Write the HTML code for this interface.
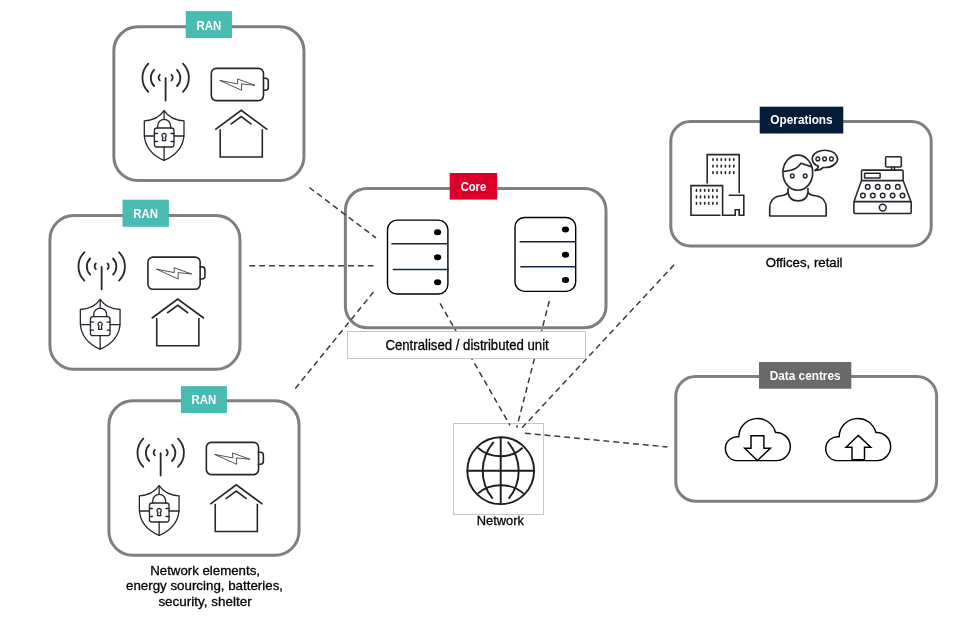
<!DOCTYPE html>
<html><head><meta charset="utf-8"><title>Network diagram</title>
<style>
html,body{margin:0;padding:0;background:#fff;}
svg{display:block;font-family:"Liberation Sans",sans-serif;}
text{filter:grayscale(1);}
</style></head><body>
<svg width="971" height="628" viewBox="0 0 971 628">
<rect width="971" height="628" fill="#fff"/>
<rect x="345.4" y="188.6" width="260.6" height="139.1" rx="21.5" fill="#fff" stroke="#7f7f7f" stroke-width="3"/>
<rect x="453.5" y="423.5" width="90" height="91" fill="#fff" stroke="#c6c6c6" stroke-width="1"/>
<path d="M309.3 187.5L376 237.9" stroke="#3c3c3c" stroke-width="1.5" stroke-dasharray="5.9 3.97" fill="none"/>
<path d="M249.3 265.8L373.5 265.8" stroke="#3c3c3c" stroke-width="1.5" stroke-dasharray="5.9 3.97" fill="none"/>
<path d="M295.3 388.5L374.2 291.1" stroke="#3c3c3c" stroke-width="1.5" stroke-dasharray="5.9 3.97" fill="none"/>
<path d="M440.1 303.4L510 425.3" stroke="#3c3c3c" stroke-width="1.5" stroke-dasharray="5.9 3.97" fill="none"/>
<path d="M549.3 301L516.7 427.6" stroke="#3c3c3c" stroke-width="1.5" stroke-dasharray="5.9 3.97" fill="none"/>
<path d="M674.1 264.8L522.1 427.8" stroke="#3c3c3c" stroke-width="1.5" stroke-dasharray="5.9 3.97" fill="none"/>
<path d="M524.9 433.2L667.5 447" stroke="#3c3c3c" stroke-width="1.5" stroke-dasharray="5.9 3.97" fill="none"/>
<rect x="347.5" y="331.5" width="238" height="27" fill="#fff" stroke="#c6c6c6" stroke-width="1"/>
<text x="385.45" y="350" textLength="163.3" lengthAdjust="spacingAndGlyphs" font-size="14" fill="#000" stroke="#000" stroke-width="0.3">Centralised / distributed unit</text>
<rect x="449.7" y="173" width="47.5" height="26.6" fill="#dc0029"/><text x="460.70" y="191.1" textLength="25.5" lengthAdjust="spacingAndGlyphs" font-size="12.4" font-weight="700" fill="#fff">Core</text>
<rect x="387.5" y="220.1" width="60.4" height="73.9" rx="9.5" fill="#fff" stroke="#000" stroke-width="1.4"/><path d="M391.4 243.8H447" stroke="#0f2542" stroke-width="1.5" fill="none"/><path d="M392.8 269.5H448.8" stroke="#0f2542" stroke-width="1.5" fill="none"/><ellipse cx="437.6" cy="232.2" rx="3.6" ry="3" fill="#000"/><ellipse cx="437.6" cy="257.3" rx="3.6" ry="3" fill="#000"/><ellipse cx="437.6" cy="282.3" rx="3.6" ry="3" fill="#000"/>
<rect x="515" y="217.5" width="60.7" height="73.9" rx="9.5" fill="#fff" stroke="#000" stroke-width="1.4"/><path d="M519.6 241.7H575.2" stroke="#0f2542" stroke-width="1.5" fill="none"/><path d="M520.3 266.7H575.6" stroke="#0f2542" stroke-width="1.5" fill="none"/><ellipse cx="565.5" cy="229.5" rx="3.6" ry="3" fill="#000"/><ellipse cx="565.5" cy="254.8" rx="3.6" ry="3" fill="#000"/><ellipse cx="565.5" cy="280" rx="3.6" ry="3" fill="#000"/>
<rect x="113.85" y="26.8" width="190.1" height="153.7" rx="24" fill="#fff" stroke="#7f7f7f" stroke-width="3"/>
<rect x="185.75" y="11.15" width="46.2" height="26.9" fill="#48bbb2"/><text x="196.50" y="29.9" textLength="24.7" lengthAdjust="spacingAndGlyphs" font-size="12.4" font-weight="700" fill="#fff">RAN</text>
<g transform="translate(0.0,0.0)" fill="none" stroke="#26262e" stroke-linecap="round" stroke-linejoin="round">
  <!-- antenna -->
  <g stroke-width="1.8" transform="translate(0,0)">
    <path d="M165.6 78.2V100.6"/>
    <path d="M148.3 63.6A20 20 0 0 0 148.3 91.9"/>
    <path d="M183 63.6A20 20 0 0 1 183 91.9"/>
    <path d="M154.1 69.8A11.6 11.6 0 0 0 154.1 86"/>
    <path d="M177 69.8A11.6 11.6 0 0 1 177 86"/>
    <path d="M159.8 74.8A3.7 3.7 0 0 0 159.8 80.3"/>
    <path d="M171.5 74.8A3.7 3.7 0 0 1 171.5 80.3"/>
  </g>



  <!-- battery -->
  <g transform="translate(0,0)">
  <rect x="211.3" y="68.4" width="52.2" height="32.2" rx="5" stroke-width="1.6"/>
  <path d="M263.5 78.2h1.8a3 3 0 0 1 3 3v6.1a3 3 0 0 1 -3 3h-1.8" stroke-width="1.6"/>
  <path d="M220.1 80.5L237.7 83.9L237.5 79L255 85.3L241.5 83.9L241.6 89.9Z" stroke-width="0.8" stroke-linejoin="miter"/>
  </g>
  <!-- shield -->
  <g stroke-width="1.3" transform="translate(0,0)">
    <path d="M164.1 110.7C159.5 117.5 152.5 120.5 144.3 120.8V134C144.3 146 152 155.5 164.1 160.4C176.2 155.5 184 146 184 134V120.8C175.7 120.5 168.7 117.5 164.1 110.7Z"/>
    <path d="M164.1 110.7V119.3M164.1 147V160.4M144.3 136H154.4M174 136H184"/>
    <rect x="154.4" y="128" width="19.6" height="19" rx="2.5"/>
    <path d="M157.7 128V125.8A6.45 6.45 0 0 1 170.6 125.8V128"/>
    <path d="M154.4 133.5H157.4M154.4 141.5H157.4M171 133.5H174M171 141.5H174"/>
    <path d="M162.9 137.3A2.1 2.1 0 1 1 165.3 137.3L165.8 140.6H162.4Z" stroke-width="1.3"/>
  </g>
  <!-- house -->
  <g stroke-width="1.7" stroke-linecap="butt" stroke-linejoin="miter" transform="translate(0,0)">
    <path d="M215.2 129.6L241.2 110.3L267.4 129.6"/>
    <path d="M230.6 124.3L241.2 116.6L251.6 124.3" stroke-width="1.6"/>
    <path d="M220.2 129.2V157H262.3V129.2" stroke-width="1.6"/>
  </g>

</g>
<rect x="49.9" y="215.5" width="190.1" height="153.8" rx="24" fill="#fff" stroke="#7f7f7f" stroke-width="3"/>
<rect x="122.5" y="199.7" width="46.4" height="27.1" fill="#48bbb2"/><text x="133.35" y="218.05" textLength="24.7" lengthAdjust="spacingAndGlyphs" font-size="12.4" font-weight="700" fill="#fff">RAN</text>
<g transform="translate(-63.95,188.7)" fill="none" stroke="#26262e" stroke-linecap="round" stroke-linejoin="round">
  <!-- antenna -->
  <g stroke-width="1.8" transform="translate(0,0)">
    <path d="M165.6 78.2V100.6"/>
    <path d="M148.3 63.6A20 20 0 0 0 148.3 91.9"/>
    <path d="M183 63.6A20 20 0 0 1 183 91.9"/>
    <path d="M154.1 69.8A11.6 11.6 0 0 0 154.1 86"/>
    <path d="M177 69.8A11.6 11.6 0 0 1 177 86"/>
    <path d="M159.8 74.8A3.7 3.7 0 0 0 159.8 80.3"/>
    <path d="M171.5 74.8A3.7 3.7 0 0 1 171.5 80.3"/>
  </g>



  <!-- battery -->
  <g transform="translate(0.6,0)">
  <rect x="211.3" y="68.4" width="52.2" height="32.2" rx="5" stroke-width="1.6"/>
  <path d="M263.5 78.2h1.8a3 3 0 0 1 3 3v6.1a3 3 0 0 1 -3 3h-1.8" stroke-width="1.6"/>
  <path d="M220.1 80.5L237.7 83.9L237.5 79L255 85.3L241.5 83.9L241.6 89.9Z" stroke-width="0.8" stroke-linejoin="miter"/>
  </g>
  <!-- shield -->
  <g stroke-width="1.3" transform="translate(0,0)">
    <path d="M164.1 110.7C159.5 117.5 152.5 120.5 144.3 120.8V134C144.3 146 152 155.5 164.1 160.4C176.2 155.5 184 146 184 134V120.8C175.7 120.5 168.7 117.5 164.1 110.7Z"/>
    <path d="M164.1 110.7V119.3M164.1 147V160.4M144.3 136H154.4M174 136H184"/>
    <rect x="154.4" y="128" width="19.6" height="19" rx="2.5"/>
    <path d="M157.7 128V125.8A6.45 6.45 0 0 1 170.6 125.8V128"/>
    <path d="M154.4 133.5H157.4M154.4 141.5H157.4M171 133.5H174M171 141.5H174"/>
    <path d="M162.9 137.3A2.1 2.1 0 1 1 165.3 137.3L165.8 140.6H162.4Z" stroke-width="1.3"/>
  </g>
  <!-- house -->
  <g stroke-width="1.7" stroke-linecap="butt" stroke-linejoin="miter" transform="translate(0.5,0)">
    <path d="M215.2 129.6L241.2 110.3L267.4 129.6"/>
    <path d="M230.6 124.3L241.2 116.6L251.6 124.3" stroke-width="1.6"/>
    <path d="M220.2 129.2V157H262.3V129.2" stroke-width="1.6"/>
  </g>

</g>
<rect x="108.9" y="400.8" width="190.1" height="154.5" rx="24" fill="#fff" stroke="#7f7f7f" stroke-width="3"/>
<rect x="180.9" y="386.15" width="46.0" height="26.85" fill="#48bbb2"/><text x="191.55" y="403.7" textLength="24.7" lengthAdjust="spacingAndGlyphs" font-size="12.4" font-weight="700" fill="#fff">RAN</text>
<g transform="translate(-4.95,374.0)" fill="none" stroke="#26262e" stroke-linecap="round" stroke-linejoin="round">
  <!-- antenna -->
  <g stroke-width="1.8" transform="translate(0,1)">
    <path d="M165.6 78.2V100.6"/>
    <path d="M148.3 63.6A20 20 0 0 0 148.3 91.9"/>
    <path d="M183 63.6A20 20 0 0 1 183 91.9"/>
    <path d="M154.1 69.8A11.6 11.6 0 0 0 154.1 86"/>
    <path d="M177 69.8A11.6 11.6 0 0 1 177 86"/>
    <path d="M159.8 74.8A3.7 3.7 0 0 0 159.8 80.3"/>
    <path d="M171.5 74.8A3.7 3.7 0 0 1 171.5 80.3"/>
  </g>



  <!-- battery -->
  <g transform="translate(0,0)">
  <rect x="211.3" y="68.4" width="52.2" height="32.2" rx="5" stroke-width="1.6"/>
  <path d="M263.5 78.2h1.8a3 3 0 0 1 3 3v6.1a3 3 0 0 1 -3 3h-1.8" stroke-width="1.6"/>
  <path d="M220.1 80.5L237.7 83.9L237.5 79L255 85.3L241.5 83.9L241.6 89.9Z" stroke-width="0.8" stroke-linejoin="miter"/>
  </g>
  <!-- shield -->
  <g stroke-width="1.3" transform="translate(0,1)">
    <path d="M164.1 110.7C159.5 117.5 152.5 120.5 144.3 120.8V134C144.3 146 152 155.5 164.1 160.4C176.2 155.5 184 146 184 134V120.8C175.7 120.5 168.7 117.5 164.1 110.7Z"/>
    <path d="M164.1 110.7V119.3M164.1 147V160.4M144.3 136H154.4M174 136H184"/>
    <rect x="154.4" y="128" width="19.6" height="19" rx="2.5"/>
    <path d="M157.7 128V125.8A6.45 6.45 0 0 1 170.6 125.8V128"/>
    <path d="M154.4 133.5H157.4M154.4 141.5H157.4M171 133.5H174M171 141.5H174"/>
    <path d="M162.9 137.3A2.1 2.1 0 1 1 165.3 137.3L165.8 140.6H162.4Z" stroke-width="1.3"/>
  </g>
  <!-- house -->
  <g stroke-width="1.7" stroke-linecap="butt" stroke-linejoin="miter" transform="translate(0,0.5)">
    <path d="M215.2 129.6L241.2 110.3L267.4 129.6"/>
    <path d="M230.6 124.3L241.2 116.6L251.6 124.3" stroke-width="1.6"/>
    <path d="M220.2 129.2V157H262.3V129.2" stroke-width="1.6"/>
  </g>

</g>
<rect x="670.8" y="121.5" width="260.4" height="124.5" rx="19.8" fill="#fff" stroke="#7f7f7f" stroke-width="3"/>
<rect x="759.7" y="106.7" width="83.6" height="26.8" fill="#031c38"/><text x="770.35" y="124.2" textLength="62.3" lengthAdjust="spacingAndGlyphs" font-size="12.4" font-weight="700" fill="#fff">Operations</text>
<text x="765.65" y="267.3" textLength="76.9" lengthAdjust="spacingAndGlyphs" font-size="13.3" fill="#000" stroke="#000" stroke-width="0.3">Offices, retail</text>
<rect x="675.8" y="376.5" width="260.8" height="124.7" rx="19.8" fill="#fff" stroke="#7f7f7f" stroke-width="3"/>
<rect x="759" y="362" width="92.3" height="26.7" fill="#696969"/><text x="769.65" y="379.7" textLength="71" lengthAdjust="spacingAndGlyphs" font-size="12.4" font-weight="700" fill="#fff">Data centres</text>
<text x="476.70" y="525.2" textLength="47.2" lengthAdjust="spacingAndGlyphs" font-size="13.4" fill="#000" stroke="#000" stroke-width="0.3">Network</text>
<text x="150.20" y="574.6" textLength="109.8" lengthAdjust="spacingAndGlyphs" font-size="13.3" fill="#000" stroke="#000" stroke-width="0.3">Network elements,</text>
<text x="126.00" y="590.4" textLength="157" lengthAdjust="spacingAndGlyphs" font-size="13.3" fill="#000" stroke="#000" stroke-width="0.3">energy sourcing, batteries,</text>
<text x="158.40" y="606.1" textLength="93.3" lengthAdjust="spacingAndGlyphs" font-size="13.3" fill="#000" stroke="#000" stroke-width="0.3">security, shelter</text>
<g fill="none" stroke="#26262e" stroke-width="1.6" stroke-linecap="round" stroke-linejoin="round">
  <!-- buildings -->
  <g stroke-linecap="square" stroke-linejoin="miter">
    <path d="M707.2 182.7V154.6H739.2V192.3"/>
    <path d="M719.7 215.3H691V185.6H722.6V215.3H735.2V209.8H739.2V215.3H743.8V195.2H729.5"/>
  </g>
  <g stroke-width="1.65" stroke-linecap="round">
    <path stroke-dasharray="1.6 5" d="M713 158.7V174M717.1 158.7V174M721.3 158.7V174M725.4 158.7V174M729.6 158.7V174M733.8 158.7V174"/>
    <path stroke-dasharray="1.6 4.85" d="M696.5 189.6V204.4M700.5 189.6V204.4M704.7 189.6V204.4M708.7 189.6V204.4M712.8 189.6V204.4M717 189.6V204.4"/>
  </g>

  <!-- person -->
  <g stroke-width="1.65">
    <ellipse cx="797.8" cy="172.7" rx="14.9" ry="17.6"/>
    <path d="M784.2 171.4C793 171 798 168.5 801 163.2L811 166.6"/>
    <circle cx="792.3" cy="175.9" r="1.85" stroke-width="1.4"/>
    <circle cx="805.2" cy="175.9" r="1.85" stroke-width="1.4"/>
    <path d="M788 188.5V192.5C786.5 195 783 195.6 779.5 196C773 197 769.7 202 769.7 208V216H826.2V208C826.2 202 823 197 816.5 196C813 195.6 809.5 195 808 192.5V188.5"/>
    <path d="M788 192.5C789 198 793 200.9 798 200.9C803 200.9 807 198 808 192.5"/>
    <path d="M818.4 166.3A12.6 8.6 0 1 1 823.4 167.45C821.5 169.3 818.5 170.6 814.8 170.5C816.8 169.8 818 168.3 818.4 166.3Z"/>
    <circle cx="817.8" cy="158.9" r="1.85" stroke-width="1.4"/>
    <circle cx="824.6" cy="158.9" r="1.85" stroke-width="1.4"/>
    <circle cx="831.4" cy="158.9" r="1.85" stroke-width="1.4"/>
  </g>
  <!-- cash register -->
  <g stroke-width="1.55">
    <rect x="885.6" y="156.8" width="15.7" height="10.1" rx="1.2"/>
    <path d="M891.6 166.9V170.1M894.5 166.9V170.1"/>
    <rect x="861.5" y="170.1" width="41.6" height="10.5" rx="1.2"/>
    <rect x="864.6" y="173.2" width="15.5" height="4.8" rx="0.6"/>
    <path d="M861.5 180.6L854 201.6M903.1 180.6L910.9 201.6"/>
    <rect x="853.9" y="201.6" width="57.3" height="11.9" rx="1.2"/>
    <circle cx="882.7" cy="207.6" r="3.4"/>
    <g stroke-width="1.45">
    <circle cx="867.7" cy="186.9" r="2.3"/><circle cx="877.7" cy="186.9" r="2.3"/><circle cx="887.7" cy="186.9" r="2.3"/><circle cx="897.8" cy="186.9" r="2.3"/>
    <circle cx="862.9" cy="195.5" r="2.3"/><circle cx="872.8" cy="195.5" r="2.3"/><circle cx="882.7" cy="195.5" r="2.3"/><circle cx="892.6" cy="195.5" r="2.3"/><circle cx="902.5" cy="195.5" r="2.3"/>
    </g>
  </g>
</g>
<!-- clouds -->
<g fill="none" stroke="#000" stroke-width="1.45" stroke-linejoin="miter">
  <path d="M735.95 460.6A11.96 11.96 0 1 1 738.75 436.8A18.7 18.7 0 0 1 775.55 432.5A14.06 14.06 0 0 1 776.95 460.6Z"/>
  <path d="M836.3 460.6A11.96 11.96 0 1 1 839.1 436.8A18.7 18.7 0 0 1 875.9 432.5A14.06 14.06 0 0 1 877.3 460.6Z"/>
  <path d="M751 435.8H763.9V448.3H770.4L757.4 460.6L744.7 448.3H751Z" fill="#fff"/>
  <path d="M858.2 435.4L870.8 447.2H864.5V459.8H852V447.2H846Z" fill="#fff"/>
  <path d="M852 459.9H864.5" stroke-width="1.9"/>
</g>
<!-- globe -->
<g fill="none" stroke="#1c1c22" stroke-width="1.9" stroke-linecap="butt">
  <circle cx="500.7" cy="470.7" r="33.4"/>
  <path d="M467.3 470.7H534.1M500.7 437.3V504.1"/>
  <path d="M493.7 441.8C479.2 459 479.2 482 492.7 498.6"/>
  <path d="M507.7 441.8C522.2 459 522.2 482 508.7 498.6"/>
  <path d="M477.8 447.8C490 459 511 459 522.6 447.8"/>
  <path d="M477.8 493.6C490 482.4 511 482.4 523.6 493.6"/>
</g>

</svg>
</body></html>
